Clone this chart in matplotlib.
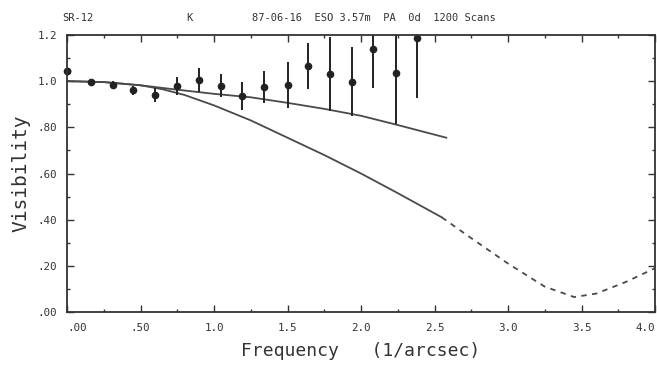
import matplotlib
matplotlib.use("Agg")
import matplotlib.pyplot as plt
from matplotlib.ticker import MultipleLocator, FixedLocator, FixedFormatter

# Measured visibilities
freq = [0.00, 0.16, 0.31, 0.45, 0.60, 0.75, 0.90, 1.05, 1.19, 1.34, 1.50, 1.64, 1.79, 1.94, 2.08, 2.24, 2.38]
vis = [1.045, 0.995, 0.985, 0.960, 0.940, 0.980, 1.005, 0.980, 0.935, 0.975, 0.985, 1.065, 1.030, 0.998, 1.140, 1.035, 1.185]
err = [0.00, 0.010, 0.015, 0.020, 0.030, 0.040, 0.050, 0.050, 0.060, 0.070, 0.100, 0.100, 0.160, 0.150, 0.170, 0.220, 0.260]

# Upper model curve
up_x = [0.0, 0.25, 0.5, 0.75, 1.0, 1.25, 1.5, 1.75, 2.0, 2.25, 2.58]
up_y = [1.0, 0.996, 0.982, 0.963, 0.945, 0.930, 0.906, 0.880, 0.850, 0.810, 0.755]

# Lower model curve (solid part)
lo_x = [0.0, 0.25, 0.5, 0.65, 0.8, 1.0, 1.25, 1.5, 1.75, 2.0, 2.25, 2.55]
lo_y = [1.0, 0.996, 0.982, 0.965, 0.940, 0.895, 0.830, 0.755, 0.680, 0.600, 0.515, 0.410]

# Lower model curve (dashed extrapolation)
ld_x = [2.55, 2.75, 3.0, 3.25, 3.45, 3.6, 3.8, 4.0]
ld_y = [0.410, 0.320, 0.210, 0.110, 0.065, 0.080, 0.130, 0.190]

xticks = [0.0, 0.5, 1.0, 1.5, 2.0, 2.5, 3.0, 3.5, 4.0]
xlabels = [".00", ".50", "1.0", "1.5", "2.0", "2.5", "3.0", "3.5", "4.0"]
yticks = [0.0, 0.2, 0.4, 0.6, 0.8, 1.0, 1.2]
ylabels = [".00", ".20", ".40", ".60", ".80", "1.0", "1.2"]

MONO = "DejaVu Sans Mono"
LINE = "#4a4a4a"
TXT = "#333333"

fig = plt.figure(figsize=(6.57, 3.68), dpi=100)
ax = fig.add_axes([0.102, 0.152, 0.895, 0.753])

ax.plot(up_x, up_y, color=LINE, lw=1.3)
ax.plot(lo_x, lo_y, color=LINE, lw=1.3)
ax.plot(ld_x, ld_y, color=LINE, lw=1.3, ls=(0, (3, 3)))
ax.errorbar(freq, vis, yerr=err, fmt="o", color="#222222", ms=4.5,
            elinewidth=1.4, capsize=0, clip_on=True)
ax.plot(freq[:1], vis[:1], "o", color="#222222", ms=4.5, clip_on=False)

ax.set_xlim(0, 4.0)
ax.set_ylim(0, 1.2)
ax.xaxis.set_major_locator(FixedLocator(xticks))
ax.xaxis.set_major_formatter(FixedFormatter(xlabels))
ax.yaxis.set_major_locator(FixedLocator(yticks))
ax.yaxis.set_major_formatter(FixedFormatter(ylabels))
ax.xaxis.set_minor_locator(MultipleLocator(0.25))
ax.yaxis.set_minor_locator(MultipleLocator(0.1))
ax.tick_params(which="both", direction="in", top=True, right=True, color=TXT)
ax.tick_params(which="major", length=5, width=1)
ax.tick_params(which="minor", length=2.5, width=1)
ax.tick_params(axis="x", pad=8)
ax.tick_params(axis="y", pad=7)
for lab in ax.get_xticklabels() + ax.get_yticklabels():
    lab.set_fontfamily(MONO)
    lab.set_fontsize(7.8)
    lab.set_color(TXT)
xt = ax.get_xticklabels()
xt[0].set_horizontalalignment("left")
xt[-1].set_horizontalalignment("right")
for sp in ax.spines.values():
    sp.set_color(TXT)
    sp.set_linewidth(1.3)

ax.set_xlabel("Frequency   (1/arcsec)", fontfamily=MONO, fontsize=13, color=TXT, labelpad=6)
ax.set_ylabel("Visibility", fontfamily=MONO, fontsize=14, color=TXT, labelpad=5)

fig.text(62 / 657, 1 - 18 / 368, "SR-12", fontfamily=MONO, fontsize=7.5, color=TXT, va="center", ha="left")
fig.text(186 / 657, 1 - 18 / 368, "K", fontfamily=MONO, fontsize=7.5, color=TXT, va="center", ha="left")
fig.text(252 / 657, 1 - 18 / 368, "87-06-16  ESO 3.57m  PA  0d  1200 Scans",
         fontfamily=MONO, fontsize=7.5, color=TXT, va="center", ha="left")

fig.savefig("out.png", dpi=100, facecolor="white")
